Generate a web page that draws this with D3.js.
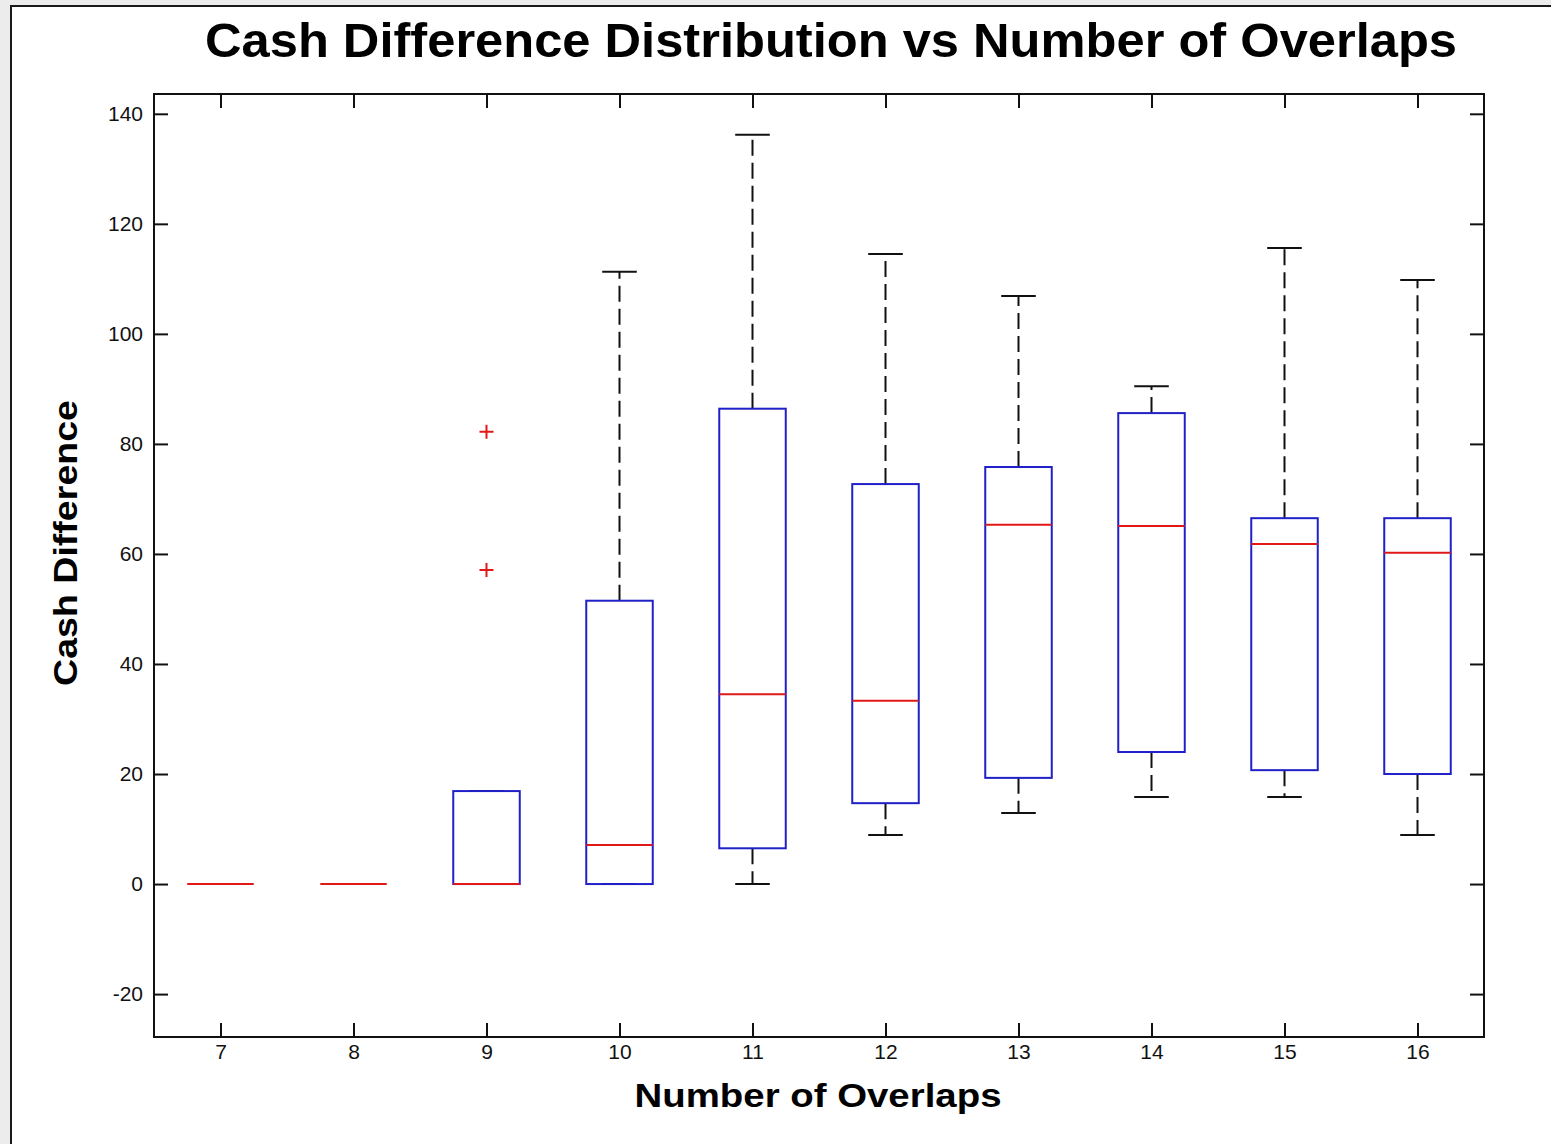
<!DOCTYPE html>
<html>
<head>
<meta charset="utf-8">
<script src="https://cdn.jsdelivr.net/npm/d3@7/dist/d3.min.js"></script>
<style>
  html, body { margin: 0; padding: 0; background: #ececec; }
  svg { display: block; }
  .tick text { font-family: "Liberation Sans Narrow", "Liberation Sans", Arial, sans-serif; font-size: 21px; fill: #111; }
</style>
</head>
<body>
<script>
// Number of overlaps (one box per value)
const categories = [7, 8, 9, 10, 11, 12, 13, 14, 15, 16];
// Box-plot statistics for cash difference
const lowerWhisker = [0, 0, 0, 0, 0, 8.9, 12.9, 15.8, 15.8, 8.9];
const q1 = [0, 0, 0, 0, 6.5, 14.7, 19.3, 24.0, 20.7, 20.0];
const median = [0, 0, 0, 7.1, 34.5, 33.3, 65.3, 65.1, 61.8, 60.2];
const q3 = [0, 0, 16.9, 51.5, 86.4, 72.7, 75.8, 85.6, 66.5, 66.5];
const upperWhisker = [0, 0, 16.9, 111.3, 136.2, 114.5, 106.9, 90.5, 115.6, 109.8];
const outlierCategory = [9, 9];
const outlierValue = [82.2, 57.1];
const yTicks = [-20, 0, 20, 40, 60, 80, 100, 120, 140];

const W = 1551, H = 1144;
const plot = { left: 154, right: 1484, top: 94, bottom: 1037 };

const svg = d3.select("body").append("svg").attr("width", W).attr("height", H);

// figure window
svg.append("rect").attr("x", 10).attr("y", 5).attr("width", W - 10).attr("height", H - 5).attr("fill", "#ffffff");
svg.append("line").attr("x1", 11).attr("x2", 11).attr("y1", 5).attr("y2", H).attr("stroke", "#1a1a1a").attr("stroke-width", 2);
svg.append("line").attr("x1", 10).attr("x2", W).attr("y1", 6).attr("y2", 6).attr("stroke", "#1a1a1a").attr("stroke-width", 2);

const x = d3.scaleLinear().domain([6.5, 16.5]).range([plot.left, plot.right]);
const y = d3.scaleLinear().domain([-27.8, 143.6]).range([plot.bottom, plot.top]);

const boxHalf = 0.25, capHalf = 0.13;

const rows = categories.map((c, i) => ({
  c, lw: lowerWhisker[i], q1: q1[i], med: median[i], q3: q3[i], uw: upperWhisker[i]
}));

// axes with inward ticks on all four sides
const tick = 14;
const plain = d => String(d);
svg.append("g").attr("transform", `translate(${plot.left},0)`)
  .call(d3.axisLeft(y).tickValues(yTicks).tickSizeInner(-tick).tickSizeOuter(0).tickPadding(11).tickFormat(plain))
  .call(g => g.select(".domain").remove())
  .call(g => g.selectAll(".tick line").attr("stroke", "#111").attr("stroke-width", 2));
svg.append("g").attr("transform", `translate(${plot.right},0)`)
  .call(d3.axisRight(y).tickValues(yTicks).tickSizeInner(-tick).tickSizeOuter(0).tickFormat(""))
  .call(g => g.select(".domain").remove())
  .call(g => g.selectAll(".tick line").attr("stroke", "#111").attr("stroke-width", 2));
svg.append("g").attr("transform", `translate(0,${plot.bottom})`)
  .call(d3.axisBottom(x).tickValues(categories).tickSizeInner(-tick).tickSizeOuter(0).tickPadding(7).tickFormat(plain))
  .call(g => g.select(".domain").remove())
  .call(g => g.selectAll(".tick line").attr("stroke", "#111").attr("stroke-width", 2));
svg.append("g").attr("transform", `translate(0,${plot.top})`)
  .call(d3.axisTop(x).tickValues(categories).tickSizeInner(-tick).tickSizeOuter(0).tickFormat(""))
  .call(g => g.select(".domain").remove())
  .call(g => g.selectAll(".tick line").attr("stroke", "#111").attr("stroke-width", 2));

svg.append("rect")
  .attr("x", plot.left).attr("y", plot.top)
  .attr("width", plot.right - plot.left).attr("height", plot.bottom - plot.top)
  .attr("fill", "none").attr("stroke", "#111").attr("stroke-width", 2);

const marks = svg.append("g");

// whiskers (dashed) and caps
rows.forEach(r => {
  [[r.q3, r.uw], [r.q1, r.lw]].forEach(([a, b]) => {
    if (a !== b) {
      marks.append("line")
        .attr("x1", x(r.c)).attr("x2", x(r.c))
        .attr("y1", y(a)).attr("y2", y(b))
        .attr("stroke", "#111").attr("stroke-width", 2)
        .attr("stroke-dasharray", "16,7");
    }
    marks.append("line")
      .attr("x1", x(r.c - capHalf)).attr("x2", x(r.c + capHalf))
      .attr("y1", y(b)).attr("y2", y(b))
      .attr("stroke", "#111").attr("stroke-width", 2);
  });
});

// boxes
rows.forEach(r => {
  if (r.q3 !== r.q1) {
    marks.append("rect")
      .attr("x", x(r.c - boxHalf)).attr("y", y(r.q3))
      .attr("width", x(r.c + boxHalf) - x(r.c - boxHalf))
      .attr("height", y(r.q1) - y(r.q3))
      .attr("fill", "none").attr("stroke", "#2020c8").attr("stroke-width", 2);
  }
});

// medians
marks.selectAll(".median").data(rows).join("line")
  .attr("class", "median")
  .attr("x1", d => x(d.c - boxHalf)).attr("x2", d => x(d.c + boxHalf))
  .attr("y1", d => y(d.med)).attr("y2", d => y(d.med))
  .attr("stroke", "#e01818").attr("stroke-width", 2);

// outliers
const plus = 7;
outlierCategory.forEach((c, i) => {
  const cx = x(c), cy = y(outlierValue[i]);
  marks.append("path")
    .attr("d", `M${cx - plus},${cy}H${cx + plus}M${cx},${cy - plus}V${cy + plus}`)
    .attr("stroke", "#e01818").attr("stroke-width", 2).attr("fill", "none");
});

// titles
svg.append("text")
  .attr("x", 831).attr("y", 57)
  .attr("text-anchor", "middle")
  .attr("font-family", "Liberation Sans, Arial, sans-serif")
  .attr("font-weight", "bold").attr("font-size", 49)
  .attr("textLength", 1252).attr("lengthAdjust", "spacingAndGlyphs")
  .attr("fill", "#000")
  .text("Cash Difference Distribution vs Number of Overlaps");

svg.append("text")
  .attr("x", 818).attr("y", 1107)
  .attr("text-anchor", "middle")
  .attr("font-family", "Liberation Sans, Arial, sans-serif")
  .attr("font-weight", "bold").attr("font-size", 34)
  .attr("textLength", 367).attr("lengthAdjust", "spacingAndGlyphs")
  .attr("fill", "#000")
  .text("Number of Overlaps");

svg.append("text")
  .attr("transform", "translate(77,543) rotate(-90)")
  .attr("text-anchor", "middle")
  .attr("font-family", "Liberation Sans, Arial, sans-serif")
  .attr("font-weight", "bold").attr("font-size", 34)
  .attr("textLength", 286).attr("lengthAdjust", "spacingAndGlyphs")
  .attr("fill", "#000")
  .text("Cash Difference");
</script>
</body>
</html>
